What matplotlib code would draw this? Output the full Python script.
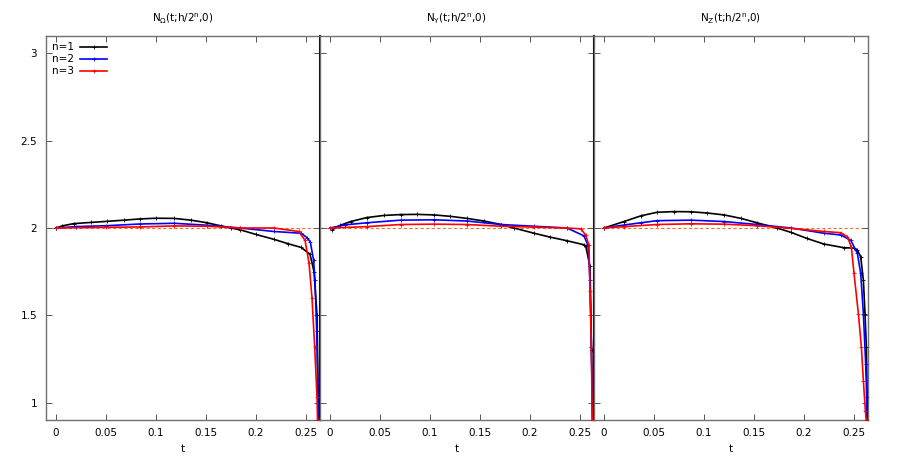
import matplotlib.pyplot as plt

# panel titles
titles = [r"N$_{\Omega}$(t;h/2$^{\rm n}$,0)", r"N$_{\rm Y}$(t;h/2$^{\rm n}$,0)", r"N$_{\rm Z}$(t;h/2$^{\rm n}$,0)"]
labels = ["n=1", "n=2", "n=3"]
colors = ["black", "blue", "red"]

# panel 1 (Omega)
t1_n1 = [0.0, 0.006, 0.0177, 0.035, 0.051, 0.068, 0.084, 0.1, 0.118, 0.135, 0.151, 0.165, 0.175,
         0.184, 0.2, 0.218, 0.232, 0.245, 0.254, 0.258, 0.261, 0.2625]
v1_n1 = [2.0, 2.012, 2.025, 2.032, 2.038, 2.045, 2.052, 2.056, 2.055, 2.045, 2.03, 2.012, 2.0,
         1.99, 1.963, 1.935, 1.91, 1.889, 1.85, 1.75, 1.5, 0.9]
t1_n2 = [0.0, 0.02, 0.05, 0.084, 0.118, 0.151, 0.184, 0.218, 0.245, 0.251, 0.2543, 0.2576, 0.259,
         0.2607, 0.2617, 0.262]
v1_n2 = [2.0, 2.008, 2.013, 2.023, 2.027, 2.016, 2.0, 1.98, 1.97, 1.945, 1.92, 1.815, 1.70,
         1.41, 1.12, 0.9]
t1_n3 = [0.0, 0.05, 0.084, 0.118, 0.151, 0.184, 0.218, 0.2427, 0.249, 0.253, 0.256, 0.2587,
         0.261, 0.2615]
v1_n3 = [2.0, 2.004, 2.006, 2.012, 2.01, 2.0, 2.0, 1.98, 1.93, 1.80, 1.60, 1.316, 1.03, 0.9]

# panel 2 (Y)
t2_n1 = [0.0024, 0.01, 0.0207, 0.037, 0.054, 0.0707, 0.087, 0.104, 0.12, 0.137, 0.154, 0.171,
         0.184, 0.204, 0.22, 0.237, 0.254, 0.2557, 0.26, 0.2615, 0.2627]
v2_n1 = [1.99, 2.015, 2.037, 2.06, 2.072, 2.077, 2.078, 2.075, 2.067, 2.055, 2.04, 2.02,
         2.0, 1.97, 1.948, 1.927, 1.904, 1.898, 1.78, 1.3, 0.9]
t2_n2 = [0.0, 0.015, 0.037, 0.0707, 0.104, 0.137, 0.171, 0.204, 0.237, 0.254, 0.258, 0.26,
         0.2614, 0.2625]
v2_n2 = [2.0, 2.018, 2.03, 2.045, 2.047, 2.04, 2.02, 2.01, 2.0, 1.955, 1.90, 1.70, 1.316, 0.9]
t2_n3 = [0.0, 0.037, 0.0707, 0.104, 0.137, 0.171, 0.204, 0.237, 0.2507, 0.2557, 0.259, 0.26,
         0.2614, 0.2622]
v2_n3 = [2.0, 2.008, 2.02, 2.022, 2.02, 2.01, 2.005, 2.0, 1.995, 1.96, 1.90, 1.64, 1.316, 0.9]

# panel 3 (Z)
t3_n1 = [0.0, 0.02, 0.037, 0.053, 0.07, 0.0867, 0.103, 0.12, 0.137, 0.153, 0.173, 0.187, 0.203,
         0.22, 0.24, 0.25, 0.2534, 0.2567, 0.2594, 0.261, 0.2624, 0.2634]
v3_n1 = [2.0, 2.037, 2.07, 2.09, 2.094, 2.093, 2.086, 2.075, 2.055, 2.03, 2.0, 1.975, 1.94,
         1.908, 1.887, 1.885, 1.873, 1.835, 1.70, 1.51, 1.316, 0.9]
t3_n2 = [0.0, 0.02, 0.037, 0.053, 0.0867, 0.12, 0.153, 0.187, 0.22, 0.2367, 0.2467, 0.2534,
         0.2567, 0.2594, 0.2617, 0.2627, 0.263]
v3_n2 = [2.0, 2.017, 2.03, 2.042, 2.045, 2.037, 2.02, 2.0, 1.97, 1.96, 1.93, 1.854, 1.74,
         1.508, 1.22, 1.03, 0.9]
t3_n3 = [0.0, 0.02, 0.053, 0.0867, 0.12, 0.153, 0.187, 0.22, 0.2367, 0.2434, 0.2474, 0.25,
         0.2544, 0.2574, 0.2594, 0.2614, 0.2622]
v3_n3 = [2.0, 2.008, 2.02, 2.024, 2.022, 2.013, 1.998, 1.98, 1.973, 1.95, 1.89, 1.74, 1.508,
         1.316, 1.124, 0.95, 0.9]

panels = [
    [(t1_n1, v1_n1), (t1_n2, v1_n2), (t1_n3, v1_n3)],
    [(t2_n1, v2_n1), (t2_n2, v2_n2), (t2_n3, v2_n3)],
    [(t3_n1, v3_n1), (t3_n2, v3_n2), (t3_n3, v3_n3)],
]

xticks = [0, 0.05, 0.1, 0.15, 0.2, 0.25]
xticklabels = ["0", "0.05", "0.1", "0.15", "0.2", "0.25"]
yticks = [1, 1.5, 2, 2.5, 3]
yticklabels = ["1", "1.5", "2", "2.5", "3"]

plt.rcParams['font.family'] = 'DejaVu Sans'
plt.rcParams['font.size'] = 7.5

fig = plt.figure(figsize=(9.13, 4.57), dpi=100)
left, width, bottom, height = 45.5 / 913, 274 / 913, 37 / 457, 384 / 457

for i in range(3):
    ax = fig.add_axes([left + i * width, bottom, width, height])
    ax.axhline(2, color='#e07a3a', ls=(0, (3, 2)), lw=0.8, zorder=1)
    for (t, v), c, lab in zip(panels[i], colors, labels):
        ax.plot(t, v, color=c, lw=1.2, marker='+', ms=3, mew=0.6, label=lab, zorder=3)
    ax.set_xlim(-0.0105, 0.2635)
    ax.set_ylim(0.9, 3.1)
    ax.set_xticks(xticks)
    ax.set_xticklabels(xticklabels)
    ax.set_yticks(yticks)
    if i == 0:
        ax.set_yticklabels(yticklabels)
    else:
        ax.set_yticklabels([])
    ax.tick_params(direction='in', length=4, width=0.7, top=True, right=True,
                   colors='#555555', labelcolor='black', pad=6)
    ax.set_title(titles[i], fontsize=7.5, pad=11)
    ax.set_xlabel("t", labelpad=4)
    for s in ax.spines.values():
        s.set_color('#707070')
        s.set_linewidth(1.0)
    if i < 2:
        ax.spines['right'].set_color('black')
        ax.spines['right'].set_linewidth(1.5)
    if i == 0:
        ax.legend(loc='upper left', frameon=False, markerfirst=False, handlelength=2.6,
                  fontsize=7.5, borderaxespad=0.2, labelspacing=0.2, handletextpad=0.6)

fig.savefig("out.png", dpi=100)
